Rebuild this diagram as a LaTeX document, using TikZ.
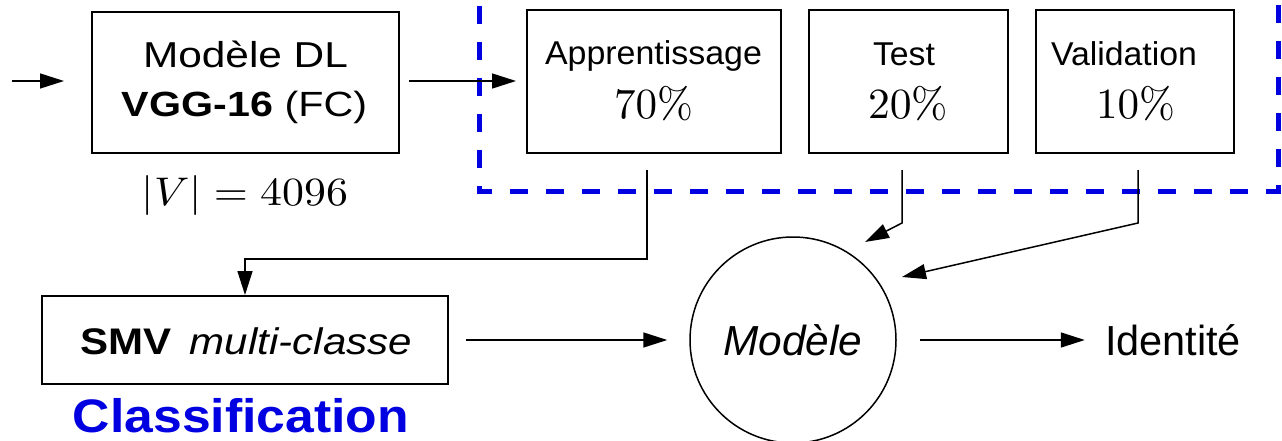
\documentclass[tikz,border=0pt]{standalone}
\usepackage{fontspec}
\usepackage{graphicx}
\newfontfamily\arialfont{Liberation Sans}
\usetikzlibrary{arrows.meta}
\definecolor{schemablue}{RGB}{0,0,225}
% set a text at its natural height, stretched to a given width
\newcommand\fitx[2]{\resizebox{#1}{\height}{#2}}
% math set at 10pt, scaled vertically by #2 and stretched to width #1
\newcommand\fitm[3]{\resizebox{#1}{#2\height}{#3}}
\newcommand\sans[1]{\arialfont\fontsize{#1}{#1}\selectfont}

\begin{document}
\begin{tikzpicture}[x=1pt,y=-1pt,
  box/.style={draw, line width=2pt, inner sep=0pt},
  conn/.style={line width=1.5pt, -{Triangle[length=24pt,width=15pt]}},
  txt/.style={inner sep=0pt, anchor=base},
  dashbox/.style={draw=schemablue, line width=5pt, dash pattern=on 18pt off 18pt}]
\clip (0,0) rectangle (1282,441);

% data split container
\draw[dashbox] (479,-30) rectangle (1278,191);

% feature extractor
\node[box, minimum width=307pt, minimum height=141pt] (vgg) at (245.5,82.5) {};
\node[txt] (vggA) at (245.5,68) {\sans{36}\fitx{205pt}{Modèle DL}};
\node[txt] (vggB) at (244.5,117) {\sans{35}\fitx{245pt}{\textbf{VGG-16} (FC)}};
\node[txt] (vggC) at (245,205) {\fitm{206pt}{4}{$|V| = 4096$}};

% split boxes
\node[box, minimum width=254pt, minimum height=143pt] (app) at (654,81.5) {};
\node[txt] (appA) at (653.5,65) {\sans{33}\fitx{217pt}{Apprentissage}};
\node[txt] (appB) at (653.5,119) {\fitm{79pt}{4.3}{$70\%$}};

\node[box, minimum width=199pt, minimum height=143pt] (tst) at (908.5,81.5) {};
\node[txt] (tstA) at (904,66) {\sans{33}\fitx{62pt}{Test}};
\node[txt] (tstB) at (908,119) {\fitm{80pt}{4.3}{$20\%$}};

\node[box, minimum width=198pt, minimum height=143pt] (val) at (1135,81.5) {};
\node[txt] (valA) at (1124,66) {\sans{33}\fitx{146pt}{Validation}};
\node[txt] (valB) at (1135.5,119) {\fitm{79pt}{4.3}{$10\%$}};

% classifier
\node[box, minimum width=406pt, minimum height=88pt] (smv) at (245,340) {};
\node[txt] (smvA) at (246,354) {\sans{37}\fitx{332pt}{\textbf{SMV}\, \textit{multi-classe}}};
\node[txt, text=schemablue] (cls) at (241,432) {\sans{47}\fitx{336pt}{\textbf{Classification}}};

% trained model and output
\node[draw, circle, line width=1.5pt, minimum size=206pt, inner sep=0pt] (mod) at (793,340)
  {\sans{42}\fitx{139pt}{\textit{Modèle}}};
\node[txt] (idt) at (1173,355) {\sans{42}\fitx{136pt}{Identité}};

% connector end points
\coordinate (src) at (12,81);
\coordinate (appout) at (647,170);
\coordinate (appturn) at (647,259);
\coordinate (tstout) at (902,170);
\coordinate (tstbend) at (902,223);
\coordinate (tstin) at (865,242);
\coordinate (valout) at (1138,170);
\coordinate (valbend) at (1138,223);
\coordinate (valin) at (902,277);

% connectors
\draw[conn] (src) -- ([xshift=-27pt]vgg.west |- src);
\draw[conn] ([xshift=9pt]vgg.east |- src) -- ([xshift=-10pt]app.west |- src);
\draw[conn] (appout) -- (appturn) -| (smv.north);
\draw[conn] (tstout) -- (tstbend) -- (tstin);
\draw[conn] (valout) -- (valbend) -- (valin);
\draw[conn] ([xshift=17pt]smv.east |- mod.center) -- ([xshift=-22pt]mod.west);
\draw[conn] ([xshift=23pt]mod.east) -- ([xshift=-20pt]idt.west |- mod.east);
\end{tikzpicture}
\end{document}
